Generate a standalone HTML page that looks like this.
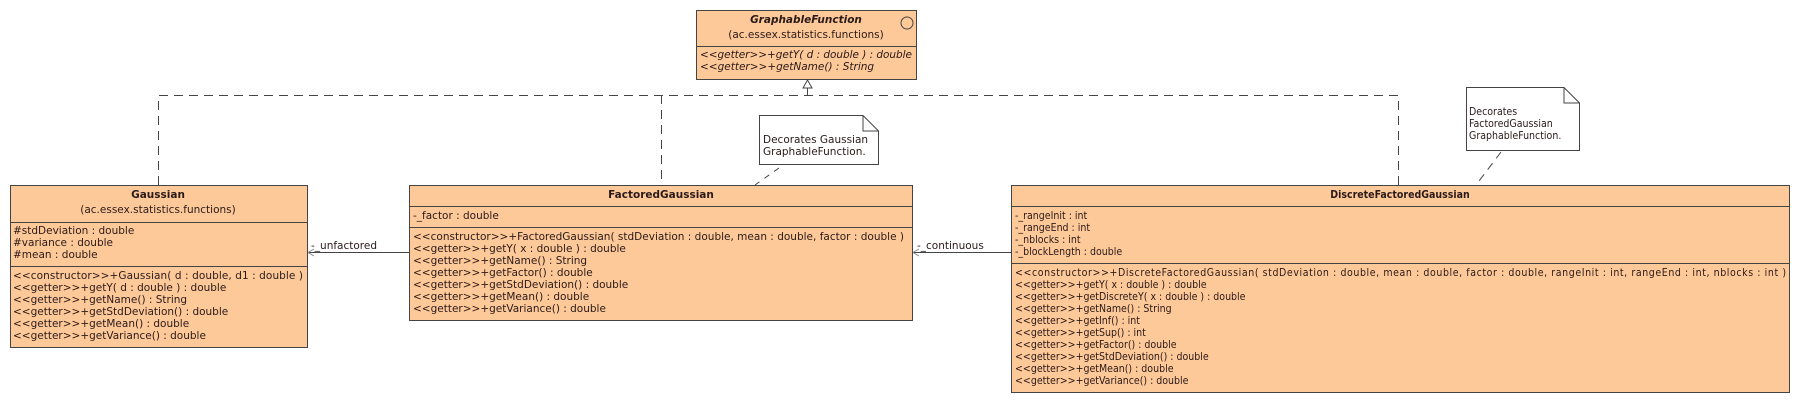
<!DOCTYPE html>
<html><head><meta charset="utf-8"><style>
html,body{margin:0;padding:0;background:#fff;}
svg{display:block;}
text{font-family:"DejaVu Sans","Liberation Sans",sans-serif;font-size:10.5px;fill:#2a1a1a;}
.b{font-weight:bold;}
.c{font-family:"DejaVu Sans Condensed","DejaVu Sans","Liberation Sans Narrow",sans-serif;}
</style></head><body>
<svg width="1796" height="402" viewBox="0 0 1796 402" xmlns="http://www.w3.org/2000/svg">
<g fill="none" stroke="#444" stroke-width="1">
 <path d="M158.5 185 V95.5 H1398.5 V185" stroke-dasharray="9,6"/>
 <path d="M661.5 95 V185" stroke-dasharray="9,6"/>
 <path d="M807.5 95 V81"/>
 <path d="M803 88 L807.5 80 L812 88 Z" fill="#fff"/>
 <path d="M409 252.5 H308"/>
 <path d="M314 249 L308 252.5 L314 256" stroke="#888"/>
 <path d="M1011 252.5 H913"/>
 <path d="M919 249 L913 252.5 L919 256" stroke="#888"/>
 <path d="M779 168 L755 185" stroke-dasharray="6,6"/>
 <path d="M1501 152 L1476 185" stroke-dasharray="8,6"/>
</g>
<!-- GraphableFunction -->
<rect x="696.5" y="10.5" width="220" height="69" fill="#fec998" stroke="#444"/>
<line x1="696" y1="46.5" x2="916" y2="46.5" stroke="#444"/>
<circle cx="907" cy="23" r="6" fill="none" stroke="#444"/>
<text x="806" y="23" text-anchor="middle" class="b" font-style="italic">GraphableFunction</text>
<text x="806" y="38" text-anchor="middle">(ac.essex.statistics.functions)</text>
<text x="700" y="58" font-style="italic" textLength="212">&lt;&lt;getter&gt;&gt;+getY( d : double ) : double</text>
<text x="700" y="70" font-style="italic">&lt;&lt;getter&gt;&gt;+getName() : String</text>
<!-- Gaussian -->
<rect x="10.5" y="185.5" width="297" height="162" fill="#fec998" stroke="#444"/>
<line x1="10" y1="222.5" x2="307" y2="222.5" stroke="#444"/>
<line x1="10" y1="266.5" x2="307" y2="266.5" stroke="#444"/>
<text x="158" y="198" text-anchor="middle" class="b">Gaussian</text>
<text x="158" y="213" text-anchor="middle">(ac.essex.statistics.functions)</text>
<text x="13" y="234">#stdDeviation : double</text>
<text x="13" y="246">#variance : double</text>
<text x="13" y="258">#mean : double</text>
<text x="13" y="279" textLength="290">&lt;&lt;constructor&gt;&gt;+Gaussian( d : double, d1 : double )</text>
<text x="13" y="291">&lt;&lt;getter&gt;&gt;+getY( d : double ) : double</text>
<text x="13" y="303">&lt;&lt;getter&gt;&gt;+getName() : String</text>
<text x="13" y="315">&lt;&lt;getter&gt;&gt;+getStdDeviation() : double</text>
<text x="13" y="327">&lt;&lt;getter&gt;&gt;+getMean() : double</text>
<text x="13" y="339">&lt;&lt;getter&gt;&gt;+getVariance() : double</text>
<!-- FactoredGaussian -->
<rect x="409.5" y="185.5" width="503" height="135" fill="#fec998" stroke="#444"/>
<line x1="409" y1="206.5" x2="912" y2="206.5" stroke="#444"/>
<line x1="409" y1="227.5" x2="912" y2="227.5" stroke="#444"/>
<text x="661" y="198" text-anchor="middle" class="b">FactoredGaussian</text>
<text x="413" y="219">-_factor : double</text>
<text x="413" y="240" textLength="491">&lt;&lt;constructor&gt;&gt;+FactoredGaussian( stdDeviation : double, mean : double, factor : double )</text>
<text x="413" y="252">&lt;&lt;getter&gt;&gt;+getY( x : double ) : double</text>
<text x="413" y="264">&lt;&lt;getter&gt;&gt;+getName() : String</text>
<text x="413" y="276">&lt;&lt;getter&gt;&gt;+getFactor() : double</text>
<text x="413" y="288">&lt;&lt;getter&gt;&gt;+getStdDeviation() : double</text>
<text x="413" y="300">&lt;&lt;getter&gt;&gt;+getMean() : double</text>
<text x="413" y="312">&lt;&lt;getter&gt;&gt;+getVariance() : double</text>
<!-- DiscreteFactoredGaussian -->
<rect x="1011.5" y="185.5" width="778" height="207" fill="#fec998" stroke="#444"/>
<line x1="1011" y1="206.5" x2="1789" y2="206.5" stroke="#444"/>
<line x1="1011" y1="263.5" x2="1789" y2="263.5" stroke="#444"/>
<g class="c">
<text x="1400" y="198" text-anchor="middle" class="b c">DiscreteFactoredGaussian</text>
<text x="1015" y="219" class="c">-_rangeInit : int</text>
<text x="1015" y="231" class="c">-_rangeEnd : int</text>
<text x="1015" y="243" class="c">-_nblocks : int</text>
<text x="1015" y="255" class="c">-_blockLength : double</text>
<text x="1015" y="276" class="c" textLength="771">&lt;&lt;constructor&gt;&gt;+DiscreteFactoredGaussian( stdDeviation : double, mean : double, factor : double, rangeInit : int, rangeEnd : int, nblocks : int )</text>
<text x="1015" y="288" class="c">&lt;&lt;getter&gt;&gt;+getY( x : double ) : double</text>
<text x="1015" y="300" class="c">&lt;&lt;getter&gt;&gt;+getDiscreteY( x : double ) : double</text>
<text x="1015" y="312" class="c">&lt;&lt;getter&gt;&gt;+getName() : String</text>
<text x="1015" y="324" class="c">&lt;&lt;getter&gt;&gt;+getInf() : int</text>
<text x="1015" y="336" class="c">&lt;&lt;getter&gt;&gt;+getSup() : int</text>
<text x="1015" y="348" class="c">&lt;&lt;getter&gt;&gt;+getFactor() : double</text>
<text x="1015" y="360" class="c">&lt;&lt;getter&gt;&gt;+getStdDeviation() : double</text>
<text x="1015" y="372" class="c">&lt;&lt;getter&gt;&gt;+getMean() : double</text>
<text x="1015" y="384" class="c">&lt;&lt;getter&gt;&gt;+getVariance() : double</text>
</g>
<!-- labels -->
<text x="311" y="249">-_unfactored</text>
<text x="917" y="249">-_continuous</text>
<!-- Note 1 -->
<path d="M759.5 115.5 H863 L878.5 131 V164.5 H759.5 Z M863 115.5 V131 H878.5" fill="#fff" stroke="#444"/>
<text x="763" y="143">Decorates Gaussian</text>
<text x="763" y="155">GraphableFunction.</text>
<!-- Note 2 -->
<path d="M1466.5 87.5 H1564 L1579.5 103 V150.5 H1466.5 Z M1564 87.5 V103 H1579.5" fill="#fff" stroke="#444"/>
<text x="1469" y="115" class="c">Decorates</text>
<text x="1469" y="127" class="c">FactoredGaussian</text>
<text x="1469" y="139" class="c">GraphableFunction.</text>
</svg>
</body></html>
